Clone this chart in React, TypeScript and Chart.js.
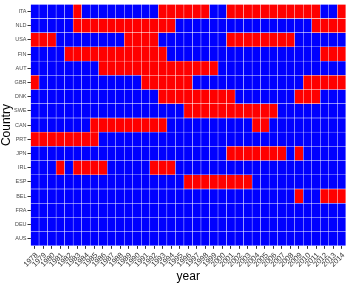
import React, { useEffect, useRef } from "react";
import { Chart, registerables } from "chart.js";

Chart.register(...registerables);

const years = [
  1978, 1979, 1980, 1981, 1982, 1983, 1984, 1985, 1986, 1987, 1988, 1989, 1990,
  1991, 1992, 1993, 1994, 1995, 1996, 1997, 1998, 1999, 2000, 2001, 2002, 2003,
  2004, 2005, 2006, 2007, 2008, 2009, 2010, 2011, 2012, 2013, 2014,
];

// top to bottom as shown
const countries = [
  "ITA", "NLD", "USA", "FIN", "AUT", "GBR", "DNK", "SWE", "CAN",
  "PRT", "JPN", "IRL", "ESP", "BEL", "FRA", "DEU", "AUS",
];

// years shown in red for each country
const redITA = [1983, 1993, 1994, 1995, 1996, 1997, 1998, 2001, 2002, 2003, 2004, 2005, 2006, 2007, 2008, 2009, 2010, 2011, 2014];
const redNLD = [1983, 1984, 1985, 1986, 1987, 1988, 1989, 1990, 1991, 1992, 1993, 1994, 2011, 2012, 2013, 2014];
const redUSA = [1978, 1979, 1980, 1989, 1990, 1991, 1992, 2001, 2002, 2003, 2004, 2005, 2006, 2007, 2008];
const redFIN = [1982, 1983, 1984, 1985, 1986, 1987, 1988, 1989, 1990, 1991, 1992, 1993, 2012, 2013, 2014];
const redAUT = [1986, 1987, 1988, 1989, 1990, 1991, 1992, 1993, 1994, 1995, 1996, 1997, 1998, 1999];
const redGBR = [1978, 1991, 1992, 1993, 1994, 1995, 1996, 2010, 2011, 2012, 2013, 2014];
const redDNK = [1993, 1994, 1995, 1996, 1997, 1998, 1999, 2000, 2001, 2009, 2010, 2011];
const redSWE = [1996, 1997, 1998, 1999, 2000, 2001, 2002, 2003, 2004, 2005, 2006];
const redCAN = [1985, 1986, 1987, 1988, 1989, 1990, 1991, 1992, 1993, 2004, 2005];
const redPRT = [1978, 1979, 1980, 1981, 1982, 1983, 1984, 1985];
const redJPN = [2001, 2002, 2003, 2004, 2005, 2006, 2007, 2009];
const redIRL = [1981, 1983, 1984, 1985, 1986, 1992, 1993, 1994];
const redESP = [1996, 1997, 1998, 1999, 2000, 2001, 2002, 2003];
const redBEL = [2009, 2012, 2013, 2014];
const redFRA: number[] = [];
const redDEU: number[] = [];
const redAUS: number[] = [];

const RED = "#FF0000";
const BLUE = "#0000FF";
const FONT = "'Liberation Sans', Arial, sans-serif";

export default function App() {
  const ref = useRef<HTMLCanvasElement>(null);

  useEffect(() => {
    const redYears: Record<string, number[]> = {
      ITA: redITA, NLD: redNLD, USA: redUSA, FIN: redFIN, AUT: redAUT,
      GBR: redGBR, DNK: redDNK, SWE: redSWE, CAN: redCAN, PRT: redPRT,
      JPN: redJPN, IRL: redIRL, ESP: redESP, BEL: redBEL, FRA: redFRA,
      DEU: redDEU, AUS: redAUS,
    };
    const order = [...countries].reverse(); // bottom first
    const datasets = order.map((c) => ({
      label: c,
      data: years.map(() => 1),
      backgroundColor: years.map((y) => (redYears[c].includes(y) ? RED : BLUE)),
      borderColor: "rgba(255,255,255,0.5)",
      borderWidth: 0.5,
      borderSkipped: false as const,
      barPercentage: 1,
      categoryPercentage: 1,
      stack: "s",
    }));

    const chart = new Chart(ref.current as HTMLCanvasElement, {
      type: "bar",
      data: { labels: years.map(String), datasets },
      options: {
        animation: false,
        responsive: false,
        maintainAspectRatio: false,
        layout: { padding: { top: -2, right: 2, left: 1, bottom: 0 } },
        plugins: { legend: { display: false }, tooltip: { enabled: false } },
        scales: {
          x: {
            stacked: true,
            grid: {
              display: true,
              drawOnChartArea: false,
              offset: false,
              tickLength: 3,
              color: "#333333",
            },
            border: { display: false },
            ticks: {
              autoSkip: false,
              maxRotation: 45,
              minRotation: 45,
              padding: 2,
              labelOffset: 2,
              color: "#333333",
              font: { family: FONT, size: 7.5 },
            },
            title: {
              display: true,
              text: "year",
              color: "#000000",
              font: { family: FONT, size: 12, lineHeight: 1 },
              padding: { top: 0, bottom: 0 },
            },
          },
          y: {
            stacked: true,
            min: 0,
            max: 17,
            afterBuildTicks: (scale: any) => {
              scale.ticks = order.map((_, i) => ({ value: i + 0.5 }));
            },
            grid: {
              display: true,
              drawOnChartArea: false,
              tickLength: 3,
              color: "#333333",
            },
            border: { display: false },
            ticks: {
              autoSkip: false,
              padding: 1,
              color: "#4D4D4D",
              font: { family: FONT, size: 5.5 },
              callback: (_v: any, i: number) => order[i],
            },
            title: {
              display: true,
              text: "Country",
              color: "#000000",
              font: { family: FONT, size: 12, lineHeight: 1 },
              padding: { top: 0, bottom: 0 },
            },
          },
        },
      },
    });
    return () => chart.destroy();
  }, []);

  return (
    <div style={{ position: "absolute", left: 0, top: 0, width: 350, height: 283, background: "#ffffff" }}>
      <canvas ref={ref} width={350} height={283} style={{ display: "block" }} />
    </div>
  );
}
